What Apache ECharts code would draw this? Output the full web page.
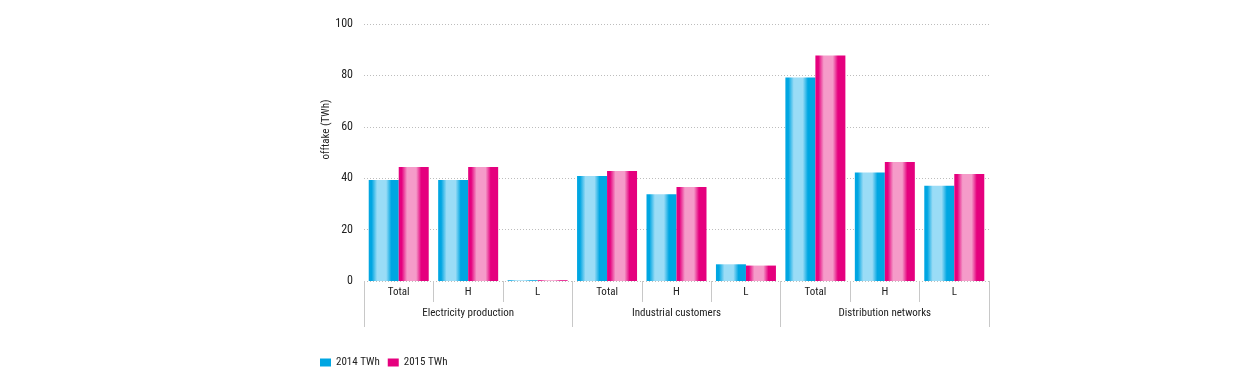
<!DOCTYPE html>
<html><head><meta charset="utf-8">
<script src="https://cdn.jsdelivr.net/npm/echarts@6/dist/echarts.min.js"></script>
<style>html,body{margin:0;padding:0;background:#fff}#c{width:1250px;height:387px}</style>
</head><body><div id="c"></div>
<script>
const subCategories = ['Total','H','L','Total','H','L','Total','H','L'];
const groups = ['Electricity production','Industrial customers','Distribution networks'];
const values2014 = [39.3, 39.3, 0.3, 40.9, 33.8, 6.5, 79.2, 42.2, 37.1];
const values2015 = [44.4, 44.4, 0.3, 42.8, 36.6, 6.0, 87.7, 46.3, 41.6];
const yTicks = [0, 20, 40, 60, 80, 100];
const seriesNames = ['2014 TWh', '2015 TWh'];

const FONT = '"Roboto Condensed", "Liberation Sans Narrow", sans-serif';
function grad(dark, light) {
  return new echarts.graphic.LinearGradient(0, 0, 1, 0, [
    {offset: 0, color: dark},
    {offset: 0.1, color: dark},
    {offset: 0.28, color: light},
    {offset: 0.58, color: light},
    {offset: 0.75, color: dark},
    {offset: 1, color: dark}
  ]);
}
const chart = echarts.init(document.getElementById('c'));
chart.setOption({
  animation: false,
  textStyle: {fontFamily: FONT},
  grid: {left: 364, right: 261, top: 24, bottom: 106, containLabel: false},
  legend: {
    left: 315, top: 352, itemWidth: 11, itemHeight: 8, itemGap: 8,
    textStyle: {fontFamily: FONT, fontSize: 11, color: '#222'},
    data: [
      {name: seriesNames[0], icon: 'rect', itemStyle: {color: '#00a6e2'}},
      {name: seriesNames[1], icon: 'rect', itemStyle: {color: '#e5007e'}}
    ]
  },
  xAxis: [
    {
      type: 'category', data: subCategories, position: 'bottom',
      axisLine: {show: false},
      axisTick: {show: true, length: 21, interval: 0, lineStyle: {color: '#c8c8c8'}},
      axisLabel: {interval: 0, fontFamily: FONT, fontSize: 11, color: '#222', margin: 6}
    },
    {
      type: 'category', data: groups, position: 'bottom',
      axisLine: {show: false},
      axisTick: {show: true, length: 46, interval: 0, lineStyle: {color: '#c8c8c8'}},
      axisLabel: {interval: 0, fontFamily: FONT, fontSize: 11, color: '#222', margin: 27}
    }
  ],
  yAxis: {
    type: 'value', min: yTicks[0], max: yTicks[yTicks.length - 1], interval: 20,
    name: 'offtake (TWh)', nameLocation: 'middle', nameGap: 23, nameRotate: 90,
    nameTextStyle: {fontFamily: FONT, fontSize: 11, color: '#222', padding: [0, 0, 0, 46]},
    axisLine: {show: false}, axisTick: {show: false},
    axisLabel: {fontFamily: FONT, fontSize: 12, color: '#222', margin: 11},
    splitLine: {show: true, lineStyle: {color: '#bdbdbd', type: [1, 2], width: 1}}
  },
  series: [
    {name: seriesNames[0], type: 'bar', xAxisIndex: 0, data: values2014, barWidth: 30, barGap: '0%',
     itemStyle: {color: grad('#00a6e2', '#9adcf6')}},
    {name: seriesNames[1], type: 'bar', xAxisIndex: 0, data: values2015, barWidth: 30, barGap: '0%',
     itemStyle: {color: grad('#e5007e', '#f59bc9')}}
  ]
});
</script></body></html>
